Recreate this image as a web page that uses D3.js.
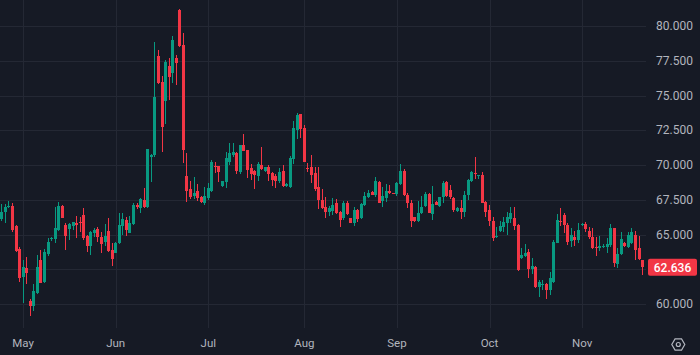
<!DOCTYPE html>
<html>
<head>
<meta charset="utf-8">
<script src="https://cdn.jsdelivr.net/npm/d3@7"></script>
<style>
  html, body { margin: 0; padding: 0; background: #161a25; }
  svg { display: block; }
</style>
</head>
<body>
<svg id="chart" width="700" height="355"></svg>
<script>
// ---- data (daily bars) ----
const opens = [66.12,66.64,66.96,67.07,65.61,63.96,61.97,62.57,60.22,59.86,60.82,63.17,61.60,63.60,64.68,64.65,65.32,67.07,65.68,65.37,65.63,65.85,65.92,66.40,64.89,64.17,65.08,65.37,64.84,64.48,65.25,63.88,63.69,64.37,65.63,66.04,65.13,65.76,67.12,66.93,67.48,67.00,70.55,70.72,77.84,75.99,74.63,77.12,76.60,77.68,81.15,78.63,69.21,68.27,67.77,68.13,67.72,67.29,67.65,68.13,69.95,69.93,68.51,68.80,70.24,70.72,70.88,69.52,71.44,71.08,69.76,69.59,69.23,70.00,69.59,69.88,69.45,69.21,68.85,69.59,68.49,68.40,70.41,72.52,73.67,72.64,69.81,69.88,69.45,68.40,67.48,66.96,66.64,66.71,67.29,66.64,66.16,67.29,66.16,65.85,66.76,66.16,67.12,67.72,68.08,67.84,68.80,67.43,67.60,68.13,67.99,67.91,68.63,69.59,67.84,67.29,66.24,65.99,66.52,67.07,67.91,66.47,67.36,67.07,67.68,68.80,68.20,67.65,66.69,66.88,66.64,67.84,68.87,69.40,69.21,69.28,67.36,66.76,65.99,64.80,65.25,65.51,65.81,66.09,66.16,65.68,63.29,63.45,63.76,62.50,62.64,61.20,61.37,61.44,61.01,61.60,64.41,65.97,66.40,65.68,64.55,64.84,64.60,65.66,65.76,65.27,64.80,64.08,64.01,64.08,64.08,64.24,65.44,62.85,63.60,64.40,64.12,64.41,64.95,64.00,63.15];
const highs = [67.19,67.19,67.41,67.24,65.68,64.12,63.17,63.40,60.34,61.42,63.53,63.88,63.93,64.72,64.84,66.96,67.31,67.10,65.81,65.81,65.92,66.33,66.28,66.88,64.96,65.25,65.44,65.51,65.20,65.76,66.16,64.37,64.48,66.52,66.52,66.28,66.33,67.24,67.24,67.60,68.32,71.15,70.80,78.87,78.27,76.40,77.55,77.68,79.28,77.91,81.20,79.52,70.84,68.85,69.12,68.63,67.80,68.40,68.68,70.36,70.19,69.95,68.87,70.91,71.60,71.60,70.96,71.44,72.23,71.10,70.07,69.64,70.19,71.32,69.88,70.00,69.52,69.35,69.76,70.00,68.68,70.65,73.19,73.76,73.70,72.88,70.12,70.72,69.88,69.83,68.25,67.72,67.05,67.60,67.53,66.71,67.43,67.43,66.20,66.96,66.80,67.24,68.08,68.20,68.12,69.16,68.87,68.40,68.63,68.56,68.02,68.80,70.07,69.69,67.96,67.48,66.28,67.43,67.77,68.08,68.00,68.49,67.40,67.72,68.87,68.85,68.56,67.70,67.00,67.48,68.15,68.97,69.59,70.60,69.30,69.52,67.43,67.12,66.28,65.56,65.99,66.24,66.64,67.00,67.00,65.76,64.01,64.32,63.93,63.29,62.70,61.73,61.73,61.49,62.32,64.60,66.47,66.88,66.52,65.81,65.44,65.27,65.81,65.85,65.92,65.51,65.44,64.80,64.89,64.30,64.72,65.76,65.50,64.00,65.20,64.45,65.20,65.47,65.25,64.90,63.20];
const lows = [66.00,65.80,66.90,65.20,63.72,61.60,60.10,61.44,59.14,59.52,60.70,61.49,61.53,63.47,64.55,64.41,65.25,66.16,63.88,64.60,65.32,64.77,65.20,64.60,63.76,63.53,64.84,64.48,63.69,64.17,63.76,62.76,63.64,64.32,64.96,64.89,65.08,65.68,66.84,66.57,66.93,66.93,68.80,70.60,75.83,70.96,72.95,74.68,75.92,75.76,78.51,70.12,67.36,67.55,67.55,67.43,67.24,67.12,67.48,68.06,69.40,68.80,68.44,68.32,70.00,70.55,69.35,69.35,71.00,69.04,68.92,68.27,68.85,69.64,69.52,68.87,68.49,68.32,68.68,68.45,68.45,68.35,70.07,71.85,71.92,70.20,69.52,68.73,68.15,66.81,66.81,66.16,66.33,66.40,66.47,65.52,66.04,66.40,65.81,65.61,65.92,66.09,67.05,67.60,67.84,67.72,67.24,67.00,67.36,67.90,67.92,67.77,68.56,67.80,66.88,65.56,65.90,65.92,66.47,67.00,66.52,66.04,67.10,67.00,67.29,67.70,67.53,66.64,66.64,66.12,66.28,67.48,68.80,68.97,69.00,67.24,66.28,65.61,64.55,64.75,65.20,65.20,64.96,65.85,65.32,62.40,63.22,63.36,61.85,62.16,61.15,60.48,61.01,60.34,60.65,61.53,64.37,65.61,65.13,64.24,64.12,64.17,64.37,65.60,65.20,64.65,63.93,63.45,63.83,64.00,63.64,64.10,62.68,62.60,63.50,64.10,64.00,64.30,63.20,63.20,62.10];
const closes = [66.64,66.96,67.07,65.32,63.81,61.85,62.64,62.21,59.86,60.94,62.64,61.53,63.76,64.48,64.77,65.44,67.07,66.16,64.89,65.73,65.88,65.70,65.85,64.72,64.17,65.20,65.32,64.80,64.32,64.89,63.83,63.24,64.37,65.68,66.12,65.32,65.85,67.12,66.96,67.53,66.96,71.15,70.72,74.91,75.92,72.76,77.43,76.31,78.99,77.36,78.58,71.08,68.15,67.72,68.00,67.65,67.31,67.77,68.37,70.24,69.88,69.52,68.85,70.53,70.84,70.96,69.57,71.44,71.00,69.64,69.35,69.28,70.05,69.69,69.88,69.35,68.92,68.85,69.52,68.49,68.63,70.48,72.64,73.60,72.57,70.24,69.73,69.28,68.25,67.48,66.88,66.64,66.88,67.12,66.52,66.04,67.29,66.47,65.85,66.76,66.12,67.19,67.77,68.00,67.84,68.85,67.29,67.77,68.15,67.96,67.94,68.68,69.59,67.84,67.24,65.99,65.99,66.57,66.96,67.91,66.57,67.19,67.12,67.72,68.73,67.77,67.68,66.76,66.93,66.64,67.84,68.92,69.52,69.35,69.28,67.29,66.64,65.99,64.72,64.89,65.61,65.92,66.24,66.52,65.61,62.45,63.53,63.69,62.50,62.73,61.20,61.56,61.44,61.01,61.85,64.48,66.04,65.90,65.68,64.48,64.96,64.60,65.32,65.76,65.37,64.80,64.01,64.01,64.17,64.17,64.32,65.44,62.93,63.60,64.70,64.15,64.96,65.20,63.90,63.27,62.636];

const monthLabels = ["May","Jun","Jul","Aug","Sep","Oct","Nov"];
const monthStartIndex = [6, 32, 58, 85, 111, 137, 163];
const priceTicks = [60, 62.5, 65, 67.5, 70, 72.5, 75, 77.5, 80];
const lastPrice = 62.636;

// ---- layout ----
const W = 700, H = 355;
const plotRight = 646, plotBottom = 328;
const bg = "#161a25", grid = "#242834", txt = "#b2b5be";
const up = "#089981", down = "#f23645";

const svg = d3.select("#chart");
svg.append("rect").attr("width", W).attr("height", H).attr("fill", bg);

const N = opens.length;
const x = d3.scaleBand().domain(d3.range(N)).range([0.02, 644.4])
  .paddingInner(0.28).paddingOuter(0.14);
const cx = i => x(i) + x.bandwidth() / 2;
const y = d3.scaleLinear().domain([60, 80]).range([304, 26]);

// grid
const g = svg.append("g");
g.selectAll("line.h").data(priceTicks).join("line")
  .attr("x1", 0).attr("x2", plotRight)
  .attr("y1", d => Math.round(y(d)) + 0.5).attr("y2", d => Math.round(y(d)) + 0.5)
  .attr("stroke", grid).attr("stroke-width", 1);
g.selectAll("line.v").data(monthStartIndex).join("line")
  .attr("x1", d => Math.round(cx(d)) + 0.5).attr("x2", d => Math.round(cx(d)) + 0.5)
  .attr("y1", 0).attr("y2", plotBottom)
  .attr("stroke", grid).attr("stroke-width", 1);

// candles
const bars = d3.range(N).map(i => ({i, o: opens[i], h: highs[i], l: lows[i], c: closes[i]}));
const cg = svg.append("g");
const bodyW = 3;
cg.selectAll("rect.wick").data(bars).join("rect")
  .attr("x", d => Math.round(cx(d.i) - bodyW / 2) + 1)
  .attr("width", 1)
  .attr("y", d => Math.round(y(d.h)))
  .attr("height", d => Math.max(1, Math.round(y(d.l)) - Math.round(y(d.h))))
  .attr("fill", d => d.c >= d.o ? up : down);
cg.selectAll("rect.body").data(bars).join("rect")
  .attr("x", d => Math.round(cx(d.i) - bodyW / 2))
  .attr("width", bodyW)
  .attr("y", d => Math.round(y(Math.max(d.o, d.c))))
  .attr("height", d => Math.max(1, Math.round(y(Math.min(d.o, d.c))) - Math.round(y(Math.max(d.o, d.c)))))
  .attr("fill", d => d.c >= d.o ? up : down);

// price axis labels (labels under the last-price badge are hidden, as in the reference)
const font = "Roboto, 'DejaVu Sans', sans-serif";
const ly = y(lastPrice);
svg.append("g").selectAll("text")
  .data(priceTicks.filter(d => Math.abs(y(d) - ly) > 14))
  .join("text")
  .attr("x", 656).attr("y", d => y(d))
  .attr("dy", "0.35em")
  .attr("fill", txt).attr("font-family", font).attr("font-size", 12)
  .text(d => d3.format(".3f")(d));

// last price label
svg.append("rect").attr("x", 648).attr("y", ly - 8.5).attr("width", 49).attr("height", 17)
  .attr("rx", 2).attr("fill", down);
svg.append("text").attr("x", 672.5).attr("y", ly).attr("dy", "0.35em")
  .attr("text-anchor", "middle").attr("fill", "#ffffff")
  .attr("font-family", font).attr("font-size", 12).attr("font-weight", 500)
  .text(d3.format(".3f")(lastPrice));

// time axis labels
svg.append("g").selectAll("text").data(monthLabels).join("text")
  .attr("x", (d, k) => cx(monthStartIndex[k]))
  .attr("y", 343).attr("dy", "0.35em")
  .attr("text-anchor", "middle")
  .attr("fill", txt).attr("font-family", font).attr("font-size", 11.5)
  .text(d => d);

// settings icon
const gx = 678.3, gy = 344.5, r = 6.5;
const hex = d3.range(6).map(k => {
  const a = Math.PI / 3 * k;
  return [gx + r * Math.cos(a), gy + r * Math.sin(a)];
});
svg.append("path").attr("d", d3.line()(hex) + "Z")
  .attr("fill", "none").attr("stroke", txt).attr("stroke-width", 1.2);
svg.append("circle").attr("cx", gx).attr("cy", gy).attr("r", 2)
  .attr("fill", "none").attr("stroke", txt).attr("stroke-width", 1.2);
</script>
</body>
</html>
